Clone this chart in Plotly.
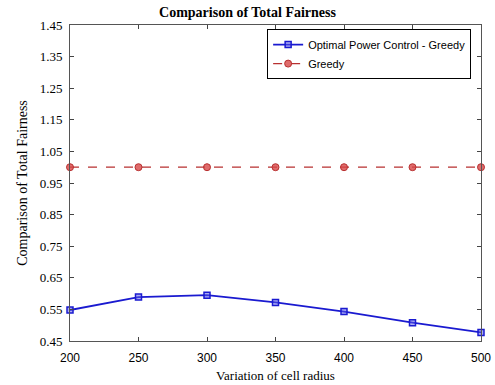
import plotly.graph_objects as go

radius = [200, 250, 300, 350, 400, 450, 500]
optimal_minus_greedy = [0.548, 0.589, 0.595, 0.572, 0.543, 0.508, 0.477]
greedy = [1.0, 1.0, 1.0, 1.0, 1.0, 1.0, 1.0]
y_ticks = [0.45, 0.55, 0.65, 0.75, 0.85, 0.95, 1.05, 1.15, 1.25, 1.35, 1.45]
x_ticks = [200, 250, 300, 350, 400, 450, 500]

fig = go.Figure()
fig.add_trace(go.Scatter(
    x=radius, y=optimal_minus_greedy, mode="lines+markers",
    name="Optimal Power Control - Greedy",
    line=dict(color="#1a1ad0", width=1.8),
    marker=dict(symbol="square", size=6, color="rgba(90,90,230,0.5)",
                line=dict(color="#1a1ad0", width=1.5)),
    cliponaxis=False,
))
fig.add_trace(go.Scatter(
    x=radius, y=greedy, mode="lines+markers",
    name="Greedy",
    line=dict(color="#b83030", width=1.2, dash="dash"),
    marker=dict(symbol="circle", size=7, color="rgba(215,70,70,0.8)",
                line=dict(color="#b83030", width=1)),
    cliponaxis=False,
))

fig.update_layout(
    width=495, height=385,
    margin=dict(l=70, r=14, t=25, b=44),
    paper_bgcolor="white", plot_bgcolor="white",
    title=dict(text="<b>Comparison of Total Fairness</b>", x=0.5, xanchor="center",
               y=1 - 12 / 385, yanchor="middle",
               font=dict(family="Liberation Serif", size=14, color="black")),
    showlegend=True,
    legend=dict(x=0.976, y=0.987, xanchor="right", yanchor="top",
                bgcolor="white", bordercolor="black", borderwidth=1,
                font=dict(family="Liberation Sans", size=11, color="black"),
                tracegroupgap=0, itemwidth=30),
)
fig.update_xaxes(
    range=[200, 500], tickvals=x_ticks, ticktext=[str(v) for v in x_ticks],
    ticks="inside", ticklen=4, tickcolor="#444", showline=True, linecolor="#555",
    linewidth=1, mirror="ticks", showgrid=False, zeroline=False, automargin=False,
    ticklabelstandoff=6,
    tickfont=dict(family="Liberation Sans", size=12, color="black"),
    title=dict(text="Variation of cell radius", standoff=6,
               font=dict(family="Liberation Serif", size=13, color="black")),
)
fig.update_yaxes(
    range=[0.45, 1.45], tickvals=y_ticks, ticktext=["%.2f" % v for v in y_ticks],
    ticks="inside", ticklen=4, tickcolor="#444", showline=True, linecolor="#555",
    linewidth=1, mirror="ticks", showgrid=False, zeroline=False, automargin=False,
    ticklabelstandoff=4,
    tickfont=dict(family="Liberation Serif", size=13, color="black"),
    title=dict(text="Comparison of Total Fairness", standoff=8,
               font=dict(family="Liberation Serif", size=14, color="black")),
)

fig.write_html("out.html", config={"displayModeBar": False},
               post_script="document.body.style.margin='0';document.body.style.padding='0';")
